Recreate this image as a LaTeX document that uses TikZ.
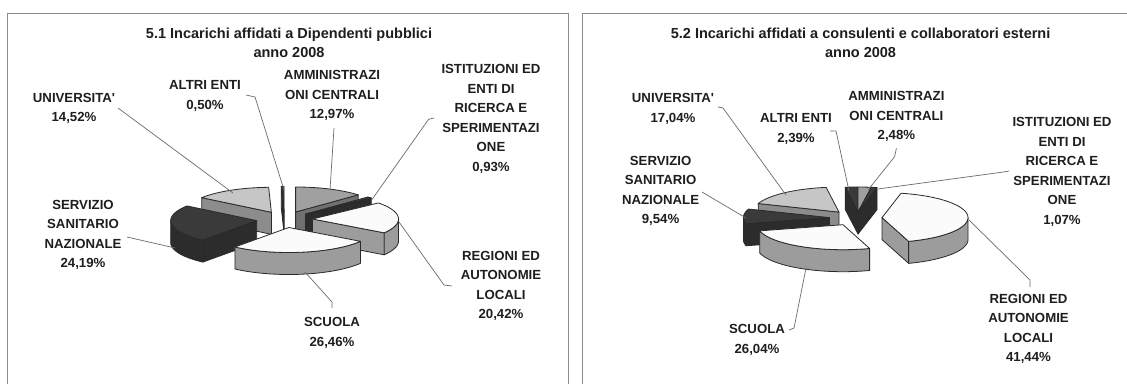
\documentclass[tikz,border=0pt]{standalone}
\usepackage{fontspec}
\setmainfont{Liberation Sans}
\definecolor{edgec}{HTML}{2A2A2A}
\definecolor{leadc}{HTML}{6A6A6A}
\definecolor{labc}{HTML}{1E1E1E}
\definecolor{panc}{HTML}{8A8A8A}
\definecolor{dk}{HTML}{3A3A3A}
\definecolor{dkside}{HTML}{2C2C2C}
\definecolor{midg}{HTML}{A0A0A0}
\definecolor{midside}{HTML}{707070}
\definecolor{ltg}{HTML}{C6C6C6}
\definecolor{ltside}{HTML}{8C8C8C}
\definecolor{wh}{HTML}{FBFBFB}
\definecolor{gside}{HTML}{9C9C9C}
\def\pieR{86}\def\pier{25}\def\pieh{22}
% #1 cx, #2 cy, #3 lo, #4 hi, #5 top colour, #6 side colour, #7..#8 visible outer side
\newcommand{\pslice}[8]{%
  \pgfmathtruncatemacro\wlo{cos(#3)>0.001}%
  \pgfmathtruncatemacro\whi{cos(#4)<-0.001}%
  \ifnum\wlo=1
    \filldraw[edge, fill=#6] (#1,#2) -- ({#1+\pieR*cos(#3)},{#2-\pier*sin(#3)}) -- ++(0,\pieh) -- (#1,{#2+\pieh}) -- cycle;
  \fi
  \ifnum\whi=1
    \filldraw[edge, fill=#6] (#1,#2) -- ({#1+\pieR*cos(#4)},{#2-\pier*sin(#4)}) -- ++(0,\pieh) -- (#1,{#2+\pieh}) -- cycle;
  \fi
  \ifdim #7pt<#8pt
    \filldraw[edge, fill=#6] plot[domain=#7:#8, samples=40] ({#1+\pieR*cos(\x)},{#2-\pier*sin(\x)})
      -- plot[domain=#8:#7, samples=40] ({#1+\pieR*cos(\x)},{#2-\pier*sin(\x)+\pieh}) -- cycle;
  \fi
  \filldraw[edge, fill=#5] (#1,#2) -- plot[domain=#3:#4, samples=40] ({#1+\pieR*cos(\x)},{#2-\pier*sin(\x)}) -- cycle;
}
\begin{document}
\begin{tikzpicture}[x=1pt,y=-1pt,
  edge/.style={draw=edgec, line width=0.8pt, line join=round},
  leader/.style={draw=leadc, line width=0.7pt},
  lab/.style={font=\fontsize{13.2}{19.5}\selectfont\bfseries, align=center, text=labc, inner sep=0pt},
  ttl/.style={font=\fontsize{14.5}{19}\selectfont\bfseries, align=center, text=labc, inner sep=0pt},
  panel/.style={draw=panc, line width=0.9pt}]
\useasboundingbox (0,0) rectangle (1127,383);
\clip (0,0) rectangle (1127,383);
\fill[white] (0,0) rectangle (1127,383);
\draw[panel] (7,13) rectangle (568,400);
\draw[panel] (582,13) rectangle (1140,400);

% ---------- left pie ----------
\pslice{284.1}{211.4}{90.04}{91.84}{dk}{dkside}{0}{0}
\pslice{295.6}{212.0}{43.31}{90}{midg}{midside}{0}{0}
\pslice{271.4}{212.3}{91.84}{144.11}{ltg}{ltside}{0}{0}
\pslice{305.4}{214.1}{39.96}{43.31}{dk}{dkside}{0}{0}
\pslice{312.5}{219.0}{-33.55}{39.96}{wh}{gside}{-33.55}{0}
\pslice{256.7}{220.6}{-215.89}{-128.81}{dk}{dkside}{-180}{-128.81}
\pslice{288.8}{227.5}{-128.81}{-33.55}{wh}{gside}{-128.81}{-33.55}

% ---------- right pie ----------
\pslice{858.0}{212.0}{90}{98.60}{dk}{dkside}{0}{0}
\pslice{858.0}{212.0}{81.07}{90}{midg}{midside}{0}{0}
\pslice{858.0}{212.0}{77.22}{81.07}{dk}{dkside}{0}{0}
\pslice{839.0}{212.1}{98.60}{159.95}{ltg}{ltside}{0}{0}
\pslice{829.4}{217.6}{-200.05}{-165.71}{dk}{dkside}{-180}{-165.71}
\pslice{882.0}{217.6}{-71.96}{77.22}{wh}{gside}{-71.96}{0}
\pslice{843.0}{224.7}{-165.71}{-71.96}{wh}{gside}{-165.71}{-71.96}

% ---------- titles ----------
\node[ttl] (t1) at (289,42.5) {5.1 Incarichi affidati a Dipendenti pubblici\\anno 2008};
\node[ttl] (t2) at (860.6,42.5) {5.2 Incarichi affidati a consulenti e collaboratori esterni\\anno 2008};

% ---------- left labels ----------
\node[lab] (lAltri) at (205,96) {ALTRI ENTI\\0,50\%};
\node[lab] (lUniv) at (74,108.5) {UNIVERSITA\textquotesingle\\14,52\%};
\node[lab] (lAmm) at (332,95.5) {AMMINISTRAZI\\ONI CENTRALI\\12,97\%};
\node[lab] (lIst) at (491,119) {ISTITUZIONI ED\\ENTI DI\\RICERCA E\\SPERIMENTAZI\\ONE\\0,93\%};
\node[lab] (lSsn) at (83,235) {SERVIZIO\\SANITARIO\\NAZIONALE\\24,19\%};
\node[lab] (lReg) at (501,285.7) {REGIONI ED\\AUTONOMIE\\LOCALI\\20,42\%};
\node[lab] (lScu) at (332,333) {SCUOLA\\26,46\%};

% ---------- right labels ----------
\node[lab] (rUniv) at (673,109) {UNIVERSITA\textquotesingle\\17,04\%};
\node[lab] (rAltri) at (796,129) {ALTRI ENTI\\2,39\%};
\node[lab] (rAmm) at (896.4,116.7) {AMMINISTRAZI\\ONI CENTRALI\\2,48\%};
\node[lab] (rIst) at (1062,171.7) {ISTITUZIONI ED\\ENTI DI\\RICERCA E\\SPERIMENTAZI\\ONE\\1,07\%};
\node[lab] (rSsn) at (660.6,191) {SERVIZIO\\SANITARIO\\NAZIONALE\\9,54\%};
\node[lab] (rReg) at (1028.5,329) {REGIONI ED\\AUTONOMIE\\LOCALI\\41,44\%};
\node[lab] (rScu) at (757,340) {SCUOLA\\26,04\%};

% ---------- leader coordinates ----------
\coordinate (la1) at (246,95);   \coordinate (la2) at (255,97);   \coordinate (la3) at (284,190);
\coordinate (lu1) at (118,108);  \coordinate (lu2) at (233,193);
\coordinate (lm1) at (334,128);  \coordinate (lm2) at (330,190);
\coordinate (li1) at (434,118);  \coordinate (li2) at (428.6,119.3); \coordinate (li3) at (372,199.5);
\coordinate (ls1) at (127,237);  \coordinate (ls2) at (175,248);
\coordinate (lr1) at (399,222);  \coordinate (lr2) at (444,285); \coordinate (lr3) at (452,286);
\coordinate (lc1) at (305,272);  \coordinate (lc2) at (332,302); \coordinate (lc3) at (332,308);

\coordinate (ru1) at (718,107);  \coordinate (ru2) at (723,108); \coordinate (ru3) at (786,195);
\coordinate (ra1) at (830,131);  \coordinate (ra2) at (836,131); \coordinate (ra3) at (849,191);
\coordinate (rm1) at (896.4,148.3); \coordinate (rm2) at (894.6,156.7); \coordinate (rm3) at (868,190);
\coordinate (ri1) at (1009,171); \coordinate (ri2) at (1003.5,172); \coordinate (ri3) at (878,189);
\coordinate (rs1) at (702,192);  \coordinate (rs2) at (746,218);
\coordinate (rr1) at (969,220);  \coordinate (rr2) at (1030,280); \coordinate (rr3) at (1030,287);
\coordinate (rc1) at (806,268);  \coordinate (rc2) at (794,328); \coordinate (rc3) at (789,330);

% ---------- leaders ----------
\draw[leader] (la1) -- (la2) -- (la3);
\draw[leader] (lu1) -- (lu2);
\draw[leader] (lm1) -- (lm2);
\draw[leader] (li1) -- (li2) -- (li3);
\draw[leader] (ls1) -- (ls2);
\draw[leader] (lr1) -- (lr2) -- (lr3);
\draw[leader] (lc1) -- (lc2) -- (lc3);
\draw[leader] (ru1) -- (ru2) -- (ru3);
\draw[leader] (ra1) -- (ra2) -- (ra3);
\draw[leader] (rm1) -- (rm2) -- (rm3);
\draw[leader] (ri1) -- (ri2) -- (ri3);
\draw[leader] (rs1) -- (rs2);
\draw[leader] (rr1) -- (rr2) -- (rr3);
\draw[leader] (rc1) -- (rc2) -- (rc3);
\end{tikzpicture}
\end{document}
